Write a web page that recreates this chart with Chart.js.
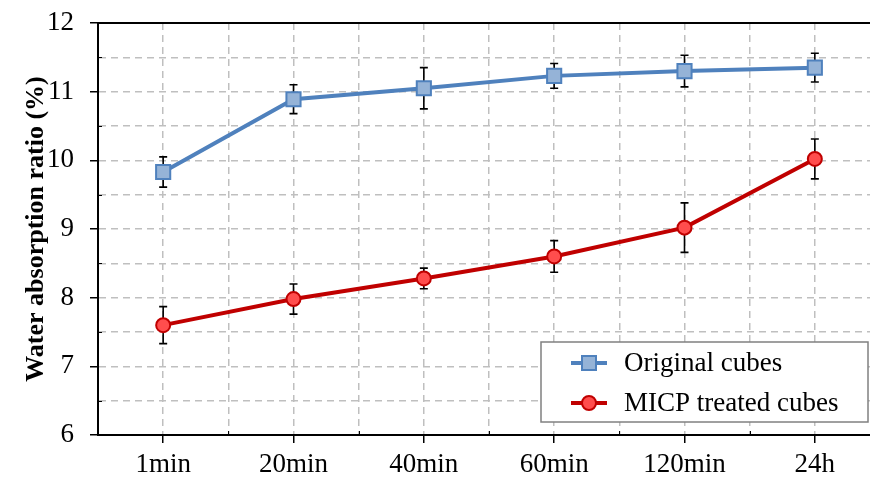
<!DOCTYPE html>
<html>
<head>
<meta charset="utf-8">
<script src="https://cdn.jsdelivr.net/npm/chart.js@4"></script>
<style>
  html, body { margin: 0; padding: 0; background: #fff; overflow: hidden; }
  #wrap { width: 892px; height: 479px; }
</style>
</head>
<body>
<div id="wrap"><canvas id="absorptionChart" width="892" height="479"></canvas></div>
<script>
// ── valores ──
const categories = ["1min", "20min", "40min", "60min", "120min", "24h"];
const originalMean = [9.83, 10.89, 11.05, 11.23, 11.30, 11.35];
const originalErr = [0.22, 0.21, 0.30, 0.18, 0.23, 0.21];
const micpMean = [7.60, 7.98, 8.28, 8.60, 9.02, 10.02];
const micpErr = [0.27, 0.22, 0.15, 0.23, 0.36, 0.29];
const yTicks = [6, 7, 8, 9, 10, 11, 12];

const FONT = "'Liberation Serif', 'Times New Roman', serif";
const GRID = "#bfbfbf";
const isWhole = v => Math.abs(v - Math.round(v)) < 1e-6;

// barras de error, dibujadas antes de las series para que los marcadores queden encima
const errorBars = {
    id: "errorBars",
    beforeDatasetsDraw(chart) {
        const ctx = chart.ctx;
        const y = chart.scales.y;
        ctx.save();
        ctx.strokeStyle = "#000";
        ctx.lineWidth = 1.6;
        chart.data.datasets.forEach((ds, di) => {
            chart.getDatasetMeta(di).data.forEach((pt, i) => {
                const top = y.getPixelForValue(ds.data[i].y + ds.errors[i]);
                const bot = y.getPixelForValue(ds.data[i].y - ds.errors[i]);
                ctx.beginPath();
                ctx.moveTo(pt.x, top); ctx.lineTo(pt.x, bot);
                ctx.moveTo(pt.x - 4, top); ctx.lineTo(pt.x + 4, top);
                ctx.moveTo(pt.x - 4, bot); ctx.lineTo(pt.x + 4, bot);
                ctx.stroke();
            });
        });
        ctx.restore();
    }
};

// marco superior y marcas menores hacia adentro
const frame = {
    id: "frame",
    afterDraw(chart) {
        const { ctx, chartArea: a, scales } = chart;
        ctx.save();
        ctx.strokeStyle = "#000";
        ctx.lineWidth = 2;
        ctx.beginPath();
        ctx.moveTo(a.left - 1, a.top); ctx.lineTo(a.right, a.top);
        ctx.stroke();
        ctx.lineWidth = 1;
        ctx.beginPath();
        scales.y.ticks.forEach(t => {
            if (!isWhole(t.value)) {
                const py = Math.round(scales.y.getPixelForValue(t.value)) + 0.5;
                ctx.moveTo(a.left, py); ctx.lineTo(a.left + 4, py);
            }
        });
        scales.x.ticks.forEach(t => {
            if (!isWhole(t.value) && t.value > scales.x.min) {
                const px = Math.round(scales.x.getPixelForValue(t.value)) + 0.5;
                ctx.moveTo(px, a.bottom); ctx.lineTo(px, a.bottom - 4);
            }
        });
        ctx.stroke();
        ctx.restore();
    }
};

// leyenda con recuadro
const boxLegend = {
    id: "boxLegend",
    afterDraw(chart) {
        const { ctx, chartArea: a } = chart;
        const w = 327, h = 80;
        const x0 = 541, y0 = a.bottom - 13 - h;
        ctx.save();
        ctx.fillStyle = "#fff";
        ctx.fillRect(x0, y0, w, h);
        ctx.strokeStyle = "#808080";
        ctx.lineWidth = 1.5;
        ctx.strokeRect(x0, y0, w, h);
        chart.data.datasets.forEach((ds, i) => {
            const cy = y0 + 21 + i * 40;
            const cx = x0 + 48;
            ctx.strokeStyle = ds.borderColor;
            ctx.lineWidth = 4;
            ctx.beginPath();
            ctx.moveTo(cx - 18, cy); ctx.lineTo(cx + 18, cy);
            ctx.stroke();
            ctx.fillStyle = ds.pointBackgroundColor;
            ctx.strokeStyle = ds.pointBorderColor;
            ctx.lineWidth = 2;
            ctx.beginPath();
            if (ds.pointStyle === "rect") {
                ctx.rect(cx - 7, cy - 7, 14, 14);
            } else {
                ctx.arc(cx, cy, 7, 0, Math.PI * 2);
            }
            ctx.fill(); ctx.stroke();
            ctx.fillStyle = "#000";
            ctx.font = "27px " + FONT;
            ctx.textBaseline = "middle";
            ctx.textAlign = "left";
            ctx.fillText(ds.label, x0 + 83, cy + 1);
        });
        ctx.restore();
    }
};

const ctx = document.getElementById("absorptionChart").getContext("2d");

new Chart(ctx, {
    type: "line",
    data: {
        datasets: [{
            label: "Original cubes",
            data: categories.map((c, i) => ({ x: i, y: originalMean[i] })),
            errors: originalErr,
            borderColor: "#4f81bd",
            borderWidth: 4,
            pointStyle: "rect",
            pointRadius: 10,
            pointBorderWidth: 2,
            pointBackgroundColor: "#95b3d7",
            pointBorderColor: "#4f81bd",
            tension: 0
        }, {
            label: "MICP treated cubes",
            data: categories.map((c, i) => ({ x: i, y: micpMean[i] })),
            errors: micpErr,
            borderColor: "#c00000",
            borderWidth: 4,
            pointStyle: "circle",
            pointRadius: 7,
            pointBorderWidth: 2,
            pointBackgroundColor: "#ff4d4d",
            pointBorderColor: "#c00000",
            tension: 0
        }]
    },
    options: {
        responsive: false,
        animation: false,
        layout: { padding: { top: 23, right: 3, bottom: 0, left: 0 } },
        plugins: { legend: { display: false }, tooltip: { enabled: false } },
        scales: {
            x: {
                type: "linear",
                min: -0.5,
                max: categories.length - 0.5,
                afterFit(scale) { scale.height = 44; },
                ticks: {
                    stepSize: 0.5,
                    autoSkip: false,
                    maxRotation: 0,
                    padding: 6,
                    color: "#000",
                    font: { family: FONT, size: 27 },
                    callback: v => isWhole(v) ? categories[Math.round(v)] : ""
                },
                grid: {
                    color: c => c.tick && c.tick.value <= -0.5 ? "transparent" : GRID,
                    lineWidth: 1.5,
                    tickLength: 8,
                    tickWidth: 1.5,
                    tickBorderDash: [],
                    tickColor: c => c.tick && isWhole(c.tick.value) ? "#000" : "transparent"
                },
                border: { color: "#000", width: 2, dash: [7, 5] }
            },
            y: {
                min: yTicks[0],
                max: yTicks[yTicks.length - 1],
                afterFit(scale) { scale.width = 98; },
                title: {
                    display: true,
                    text: "Water absorption ratio (%)",
                    color: "#000",
                    font: { family: FONT, size: 26, weight: "bold" },
                    padding: { top: 21, bottom: 0 }
                },
                ticks: {
                    stepSize: 0.5,
                    padding: 16,
                    color: "#000",
                    font: { family: FONT, size: 27, lineHeight: 0.5 },
                    callback: v => yTicks.includes(v) ? String(v) : ""
                },
                grid: {
                    color: c => c.tick && (c.tick.value <= 6 || c.tick.value >= 12) ? "transparent" : GRID,
                    lineWidth: 1.5,
                    tickLength: 8,
                    tickWidth: 1.5,
                    tickBorderDash: [],
                    tickColor: c => c.tick && yTicks.includes(c.tick.value) ? "#000" : "transparent"
                },
                border: { color: "#000", width: 2, dash: [7, 5] }
            }
        }
    },
    plugins: [errorBars, frame, boxLegend]
});
</script>
</body>
</html>
